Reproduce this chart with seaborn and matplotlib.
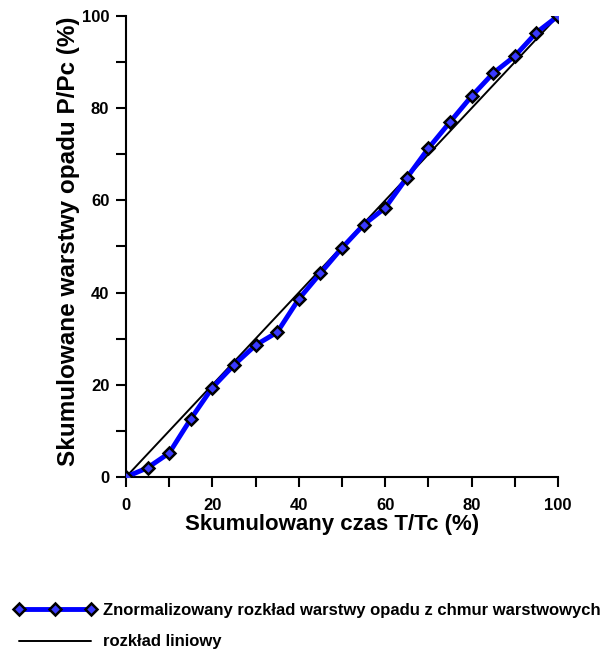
import matplotlib
matplotlib.use("Agg")
import matplotlib.pyplot as plt
from matplotlib.ticker import MultipleLocator
import seaborn as sns
import pandas as pd

time_pct = [0, 5, 10, 15, 20, 25, 30, 35, 40, 45, 50, 55, 60, 65, 70, 75, 80, 85, 90, 95, 100]
precip_pct = [0, 2.0, 5.2, 12.6, 19.4, 24.3, 28.6, 31.4, 38.6, 44.2, 49.7, 54.7, 58.4, 64.9, 71.3, 77.0, 82.6, 87.6, 91.3, 96.4, 100]
linear_x = [0, 100]
linear_y = [0, 100]

label_norm = "Znormalizowany rozkład warstwy opadu z chmur warstwowych"
label_lin = "rozkład liniowy"
xlabel = "Skumulowany czas T/Tc (%)"
ylabel = "Skumulowane warstwy opadu P/Pc (%)"

sns.set_theme(style="white")
plt.rcParams['font.family'] = ['Liberation Sans', 'DejaVu Sans']
for k in ["text.color", "axes.labelcolor", "xtick.color", "ytick.color", "axes.edgecolor"]:
    plt.rcParams[k] = "black"

df = pd.DataFrame({"x": time_pct, "y": precip_pct})
dfl = pd.DataFrame({"x": linear_x, "y": linear_y})

fig = plt.figure(figsize=(6.05, 6.57), dpi=100)
ax = fig.add_axes([126/605, 1-477/657, (558-126)/605, (477-16)/657])

sns.lineplot(data=df, x="x", y="y", ax=ax, color="#0000ff", linewidth=3.5,
             marker="D", markersize=6.5, markerfacecolor="#3a3aff",
             markeredgecolor="black", markeredgewidth=1.8, label=label_norm, zorder=3)
sns.lineplot(data=dfl, x="x", y="y", ax=ax, color="black", linewidth=1.4,
             label=label_lin, zorder=2)

ax.set_xlim(0, 100)
ax.set_ylim(0, 100)
ax.xaxis.set_major_locator(MultipleLocator(20))
ax.xaxis.set_minor_locator(MultipleLocator(10))
ax.yaxis.set_major_locator(MultipleLocator(20))
ax.yaxis.set_minor_locator(MultipleLocator(10))
for s in ["top", "right"]:
    ax.spines[s].set_visible(False)
for s in ["left", "bottom"]:
    ax.spines[s].set_color("black")
    ax.spines[s].set_linewidth(1.5)
ax.tick_params(which="both", direction="out", length=7, width=1.5, color="black",
               bottom=True, left=True)
ax.tick_params(which="major", labelsize=12, labelcolor="black")
ax.tick_params(axis="x", which="major", pad=8)
ax.tick_params(axis="y", which="major", pad=5)
for lab in ax.get_xticklabels() + ax.get_yticklabels():
    lab.set_fontweight("bold")
ax.set_xlabel(xlabel, fontsize=16, fontweight="bold", labelpad=1, color="black")
ax.set_ylabel(ylabel, fontsize=17.5, fontweight="bold", labelpad=1.5, color="black")
ax.xaxis.label.set_x((332 - 126) / 432)
ax.yaxis.label.set_y((477 - 241.5) / 461)

ax.get_legend().remove()
h, l = ax.get_legend_handles_labels()
leg = fig.legend(h, l, loc="upper left", bbox_to_anchor=(14/605, 1-603/657),
                 frameon=False, numpoints=3, handlelength=4.9, handletextpad=0.45,
                 labelspacing=0.98, borderaxespad=0, borderpad=0,
                 prop={"family": ["Liberation Sans", "DejaVu Sans"], "weight": "bold", "size": 12})
fig.savefig("out.png", dpi=100)
